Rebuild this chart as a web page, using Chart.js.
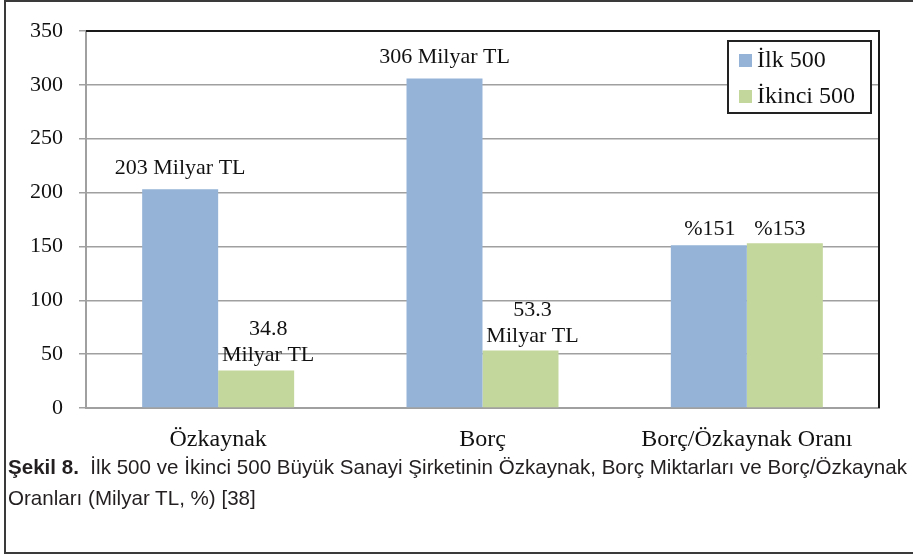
<!DOCTYPE html>
<html>
<head>
<meta charset="utf-8">
<script src="https://cdn.jsdelivr.net/npm/chart.js@4/dist/chart.umd.min.js"></script>
<style>
  html, body { margin: 0; padding: 0; background: #fff; width: 913px; height: 556px; overflow: hidden; }
  #frame { position: absolute; left: 4px; top: 0; width: 940px; height: 550px; border: 2px solid #3a3a3a; border-right: none; box-sizing: content-box; }
  #wrap { position: absolute; left: 0; top: 0; width: 913px; height: 452px; }
  #caption { position: absolute; left: 8px; top: 451px; font-family: "Liberation Sans Narrow", "Liberation Sans", Arial, sans-serif; font-size: 21px; line-height: 31px; color: #231f20; white-space: nowrap; transform-origin: 0 0; }
  #caption span { display: block; }
  #caption b { font-weight: bold; }
</style>
</head>
<body>
<div id="frame"></div>
<div id="wrap"><canvas id="c" width="913" height="452"></canvas></div>
<div id="caption"><span id="cap1"><b>Şekil 8.</b>&nbsp; İlk 500 ve İkinci 500 Büyük Sanayi Şirketinin Özkaynak, Borç Miktarları ve Borç/Özkaynak</span><span>Oranları (Milyar TL, %) [38]</span></div>
<script>
const categories = ["Özkaynak", "Borç", "Borç/Özkaynak Oranı"];
const seriesNames = ["İlk 500", "İkinci 500"];
const ilk500 = [203, 306, 151];
const ikinci500 = [34.8, 53.3, 153];
const ilk500Labels = [["203 Milyar TL"], ["306 Milyar TL"], ["%151"]];
const ikinci500Labels = [["34.8", "Milyar TL"], ["53.3", "Milyar TL"], ["%153"]];
const yTicks = [0, 50, 100, 150, 200, 250, 300, 350];

const SERIF = '"Liberation Serif", "Times New Roman", serif';
const BLUE = '#95b3d7';
const GREEN = '#c3d69b';

// fit caption first line to the reference width
(function () {
  const cap = document.getElementById('caption');
  const w = document.getElementById('cap1').getBoundingClientRect().width;
  const s = 899 / w;
  cap.style.transform = 'scaleX(' + s.toFixed(4) + ')';
})();

const labelPlugin = {
  id: 'barLabels',
  afterDatasetsDraw(chart) {
    const ctx = chart.ctx;
    const allLabels = [ilk500Labels, ikinci500Labels];
    const dx = [[0, 0, 1], [12, 12, -5]];
    const gap = [[15, 15, 10], [10, 9, 8]];
    ctx.save();
    ctx.font = '22px ' + SERIF;
    ctx.fillStyle = '#111';
    ctx.textAlign = 'center';
    ctx.textBaseline = 'alphabetic';
    chart.data.datasets.forEach((ds, di) => {
      const meta = chart.getDatasetMeta(di);
      meta.data.forEach((bar, i) => {
        const lines = allLabels[di][i];
        const lh = 26;
        let baseY = bar.y - gap[di][i];
        for (let k = lines.length - 1; k >= 0; k--) {
          ctx.fillText(lines[k], bar.x + dx[di][i], baseY);
          baseY -= lh;
        }
      });
    });
    ctx.restore();
  }
};

const framePlugin = {
  id: 'plotFrame',
  afterDraw(chart) {
    const a = chart.chartArea;
    const ctx = chart.ctx;
    ctx.save();
    ctx.strokeStyle = '#1a1a1a';
    ctx.lineWidth = 2;
    ctx.beginPath();
    ctx.moveTo(a.left, a.top);
    ctx.lineTo(a.right, a.top);
    ctx.lineTo(a.right, a.bottom);
    ctx.stroke();
    // legend box
    const bx = a.right - 151, by = a.top + 10, bw = 143, bh = 72;
    ctx.fillStyle = '#fff';
    ctx.fillRect(bx, by, bw, bh);
    ctx.strokeStyle = '#222';
    ctx.lineWidth = 2;
    ctx.strokeRect(bx, by, bw, bh);
    ctx.font = '24px ' + SERIF;
    ctx.textAlign = 'left';
    ctx.textBaseline = 'middle';
    chart.data.datasets.forEach((ds, i) => {
      const cy = by + 19 + i * 36;
      ctx.fillStyle = ds.backgroundColor;
      ctx.fillRect(bx + 11, cy - 6, 13, 13);
      ctx.fillStyle = '#111';
      ctx.fillText(ds.label, bx + 29, cy + 1);
    });
    ctx.restore();
  }
};

new Chart(document.getElementById('c'), {
  type: 'bar',
  data: {
    labels: categories,
    datasets: [
      { label: seriesNames[0], data: ilk500, backgroundColor: BLUE, borderWidth: 0 },
      { label: seriesNames[1], data: ikinci500, backgroundColor: GREEN, borderWidth: 0 }
    ]
  },
  options: {
    responsive: false,
    animation: false,
    layout: { padding: { left: 0, top: 31, right: 34, bottom: 0 } },
    plugins: { legend: { display: false }, tooltip: { enabled: false } },
    datasets: { bar: { categoryPercentage: 0.575, barPercentage: 1.0 } },
    scales: {
      x: {
        grid: { display: false, drawTicks: false },
        border: { display: true, color: '#a0a0a0', width: 2 },
        ticks: { color: '#111', font: { family: SERIF, size: 24 }, padding: 17, maxRotation: 0 },
        afterFit(s) { s.height = 44; }
      },
      y: {
        min: 0, max: 350,
        afterBuildTicks(s) { s.ticks = yTicks.map(v => ({ value: v })); },
        grid: { color: '#a0a0a0', lineWidth: 1.5, tickLength: 7, drawTicks: true },
        border: { display: true, color: '#a0a0a0', width: 2 },
        ticks: { color: '#111', font: { family: SERIF, size: 22 }, padding: 16 },
        afterFit(s) { s.width = 86; }
      }
    }
  },
  plugins: [labelPlugin, framePlugin]
});
</script>
</body>
</html>
